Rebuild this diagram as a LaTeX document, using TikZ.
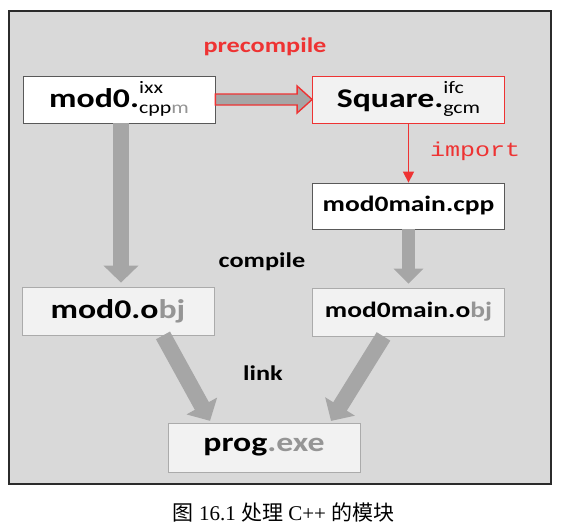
\documentclass[tikz,border=0pt]{standalone}
\usepackage{fontspec}
\usepackage{tikz}
\usetikzlibrary{arrows.meta, positioning, calc}
\usepackage{xcolor}
\newfontfamily\calfont[FakeStretch=1.25]{Carlito}
\newfontfamily\impfont[FakeStretch=1.25]{Liberation Mono}
\newfontfamily\cjkfont{Noto Sans CJK SC}
\newfontfamily\capfont{Liberation Serif}
\definecolor{bgfill}{HTML}{D9D9D9}
\definecolor{bgstr}{HTML}{2B2B2B}
\definecolor{srcstr}{HTML}{595959}
\definecolor{objfill}{HTML}{F2F2F2}
\definecolor{objstr}{HTML}{ABABAB}
\definecolor{redstr}{HTML}{EE3333}
\definecolor{flowgray}{HTML}{A6A6A6}
\definecolor{extgray}{HTML}{959595}
\newcommand{\extstack}[2]{\raisebox{-6pt}{\fontsize{17.5}{20}\selectfont\mdseries
  \begin{tabular}[b]{@{}l@{}}#1\\#2\end{tabular}}}
\tikzset{
  filebox/.style ={rectangle, thick, minimum width=192pt, minimum height=47pt,
                   inner sep=0pt, align=center, font=\calfont\bfseries\fontsize{27}{30}\selectfont},
  srcbox/.style  ={filebox, draw=srcstr, fill=white},
  ifcbox/.style  ={filebox, draw=redstr, fill=objfill},
  objbox/.style  ={filebox, draw=objstr, fill=objfill, minimum height=48pt},
  lbl/.style     ={font=\calfont\bfseries\fontsize{21}{24}\selectfont},
  flow/.style    ={-{Triangle[length=17pt, width=34pt]}, line width=16pt, draw=flowgray},
  bigflow/.style ={draw=redstr, line width=1.4pt, fill=flowgray},
  impflow/.style ={-{Triangle[length=11pt, width=11pt]}, line width=1.4pt, draw=redstr},
}
\begin{document}
\begin{tikzpicture}[x=1pt, y=-1pt]
    \useasboundingbox (0,0) rectangle (577,531);
    \draw[draw=bgstr, fill=bgfill, line width=1.6pt] (9,11) rectangle (551,484);
    \node[srcbox] (mod0) at (119,99.5) {mod0.\extstack{ixx}{cpp\textcolor{extgray}{m}}};
    \node[ifcbox] (sq) at (408.5,99.5) {Square.\extstack{ifc}{gcm}};
    \node[srcbox, minimum height=46pt, font=\calfont\bfseries\fontsize{22}{26}\selectfont] (cpp) at (408.5,206) {mod0main.cpp};
    \node[objbox] (obj0) at (118,311) {mod0.o\textcolor{extgray}{bj}};
    \node[objbox, font=\calfont\bfseries\fontsize{22}{26}\selectfont] (objm) at (408.5,312) {mod0main.o\textcolor{extgray}{bj}};
    \node[objbox, minimum height=49pt] (exe) at (264,447.5) {prog\textcolor{extgray}{.exe}};
    \node[lbl, text=redstr] (lblpre) at (265,47) {precompile};
    \node[font=\impfont\fontsize{20}{24}\selectfont, text=redstr] (lblimp) at (475,151) {import};
    \node[lbl] (lblcomp) at (262,262) {compile};
    \node[lbl] (lbllink) at (263,373) {link};
    \node (cap) at (283.5,512) {\capfont\fontsize{21}{24}\selectfont{\cjkfont 图} 16.1 {\cjkfont 处理} C++ {\cjkfont 的模块}};
    \draw[bigflow] ([yshift=5.5pt]mod0.east) -- ([xshift=-15pt, yshift=5.5pt]sq.west)
      -- ([xshift=-15pt, yshift=13.5pt]sq.west) -- (sq.west)
      -- ([xshift=-15pt, yshift=-13.5pt]sq.west) -- ([xshift=-15pt, yshift=-5.5pt]sq.west)
      -- ([yshift=-5.5pt]mod0.east) -- cycle;
    \draw[impflow] (sq.south) -- (cpp.north);
    \draw[flow, shorten >=4pt] ([xshift=2pt]mod0.south) -- ([xshift=3pt]obj0.north);
    \draw[flow, line width=13pt, -{Triangle[length=15pt, width=29pt]}, shorten >=4pt] (cpp.south) -- (objm.north);
    \draw[flow, shorten >=2pt] ([xshift=45pt]obj0.south) -- ([xshift=-53pt]exe.north);
    \draw[flow, shorten >=2pt] ([xshift=-25pt]objm.south) -- ([xshift=66pt]exe.north);
  \end{tikzpicture}
\end{document}
